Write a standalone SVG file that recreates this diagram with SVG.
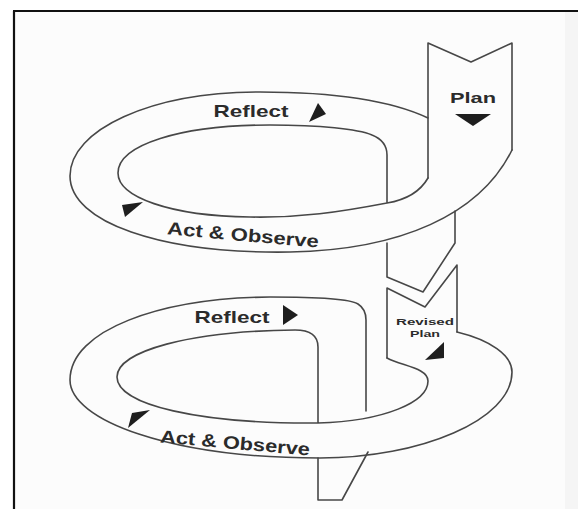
<svg xmlns="http://www.w3.org/2000/svg" width="578" height="509" viewBox="0 0 578 509">
  <style>
    .edge { fill: none; stroke: #474747; stroke-width: 1.6; stroke-linejoin: round; stroke-linecap: round; }
    .lbl { font-family: "Liberation Sans", Arial, sans-serif; font-weight: bold; fill: #2b2b2b; }
    .tri { fill: #1e1e1e; }
  </style>

  <!-- page and frame -->
  <rect x="0" y="0" width="578" height="509" fill="#ffffff"/>
  <rect x="14" y="11" width="564" height="498" fill="#fcfcfc"/>
  <rect x="565" y="11" width="13" height="498" fill="#f5f5f5"/>
  <path d="M13 11 H578 M14 11 V509" fill="none" stroke="#111" stroke-width="2.2"/>

  <!-- Plan: incoming band with notched top -->
  <g id="plan">
    <path class="edge" d="M428 178 V43 L471 62 L512 43 V150"/>
    <text class="lbl" x="473" y="103" font-size="15" text-anchor="middle" textLength="46" lengthAdjust="spacingAndGlyphs">Plan</text>
    <polygon class="tri" points="455,114 491,114 473,126"/>
  </g>

  <!-- upper loop of the spiral -->
  <g id="cycle-1">
    <!-- outer rim -->
    <path class="edge" d="M428 118 C390 100 330 92 260 92 C150 92 70 130 70 176 C70 222 160 254 290 252 C400 250 480 215 512 150"/>
    <!-- inner rim -->
    <path class="edge" d="M428 178 C420 192 405 200 387 203 C340 212 300 218 250 217 C170 216 118 197 118 173 C118 145 180 125 270 125 C320 125 358 129 372 135 Q387 141 387 155 L387 203"/>
    <text class="lbl" x="251" y="117" font-size="17" text-anchor="middle" textLength="75" lengthAdjust="spacingAndGlyphs">Reflect</text>
    <polygon class="tri" points="309,122 318,103 326,114"/>
    <text class="lbl" x="243" y="241" font-size="18" text-anchor="middle" textLength="152" lengthAdjust="spacingAndGlyphs" transform="rotate(5 243 236)">Act &amp; Observe</text>
    <polygon class="tri" points="122,205 143,202 125,217"/>
  </g>

  <!-- link between the loops -->
  <g id="link">
    <path class="edge" d="M387 243 V277 L423 292 L455 243 V211"/>
  </g>

  <!-- Revised Plan band -->
  <g id="revised-plan">
    <path class="edge" d="M457 332 V265 L425 307 L387 288 V358"/>
    <text class="lbl" x="425" y="325" font-size="9" text-anchor="middle" textLength="58" lengthAdjust="spacingAndGlyphs">Revised</text>
    <text class="lbl" x="425" y="337" font-size="9" text-anchor="middle" textLength="30" lengthAdjust="spacingAndGlyphs">Plan</text>
    <polygon class="tri" points="425,360 444,342 444,358"/>
  </g>

  <!-- lower loop of the spiral -->
  <g id="cycle-2">
    <!-- outer rim -->
    <path class="edge" d="M457 332 C490 340 512 355 512 372 C512 420 420 458 320 458 C170 458 70 420 70 380 C70 330 160 298 270 297 C325 297 350 299 358 304 Q366 309 366 320 L366 411"/>
    <!-- inner rim -->
    <path class="edge" d="M387 358 C402 366 428 368 428 381 C428 402 385 421 318 423 C200 424 117 405 117 377 C117 351 190 331 295 330 Q318 330 318 347 L318 423"/>
    <!-- tail leaving the loop -->
    <path class="edge" d="M318 458 V500 H342 L368 452"/>
    <text class="lbl" x="232" y="323" font-size="17" text-anchor="middle" textLength="75" lengthAdjust="spacingAndGlyphs">Reflect</text>
    <polygon class="tri" points="283,305 298,315 283,325"/>
    <text class="lbl" x="235" y="449" font-size="18" text-anchor="middle" textLength="150" lengthAdjust="spacingAndGlyphs" transform="rotate(5 235 444)">Act &amp; Observe</text>
    <polygon class="tri" points="132,413 150,410 128,428"/>
  </g>
</svg>
